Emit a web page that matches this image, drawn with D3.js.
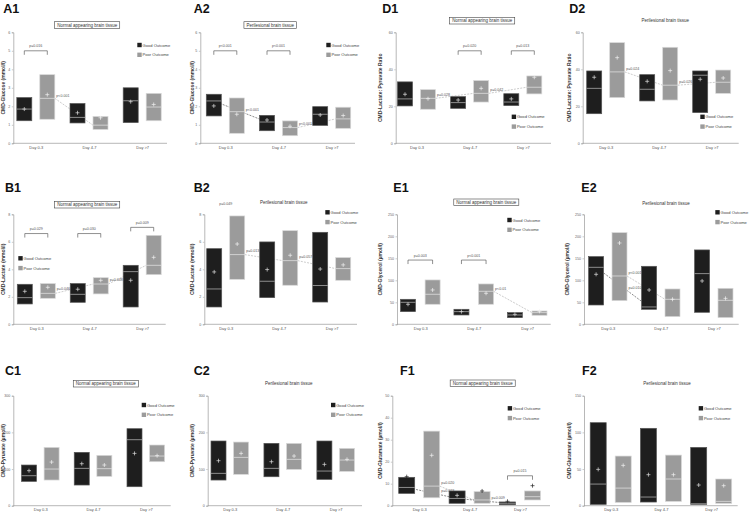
<!DOCTYPE html>
<html><head><meta charset="utf-8">
<script src="https://cdn.jsdelivr.net/npm/d3@7"></script>
<style>body{margin:0;background:#fff} svg{display:block} text{font-family:Arial,"Liberation Sans",sans-serif}</style>
</head><body><svg id="c" width="750" height="512"></svg>
<script>
const days = ["Day 0-3","Day 4-7","Day >7"];
const outcomes = ["Good Outcome","Poor Outcome"];
const normalTitle = "Normal appearing brain tissue";
const periTitle = "Perilesional brain tissue";
// tick labels
const glucoseTicks = [0,1,2,3,4,5,6];
const lprTicks = [0,20,40,60];
const lactateTicks = [0,2,4,6,8];
const glycerolTicks = [0,50,100,150,200,250];
const pyruvateTicks = [0,100,200,300];
const glutamate1Ticks = [0,10,20,30,40,50];
const glutamate2Ticks = [0,50,100,150];
// boxes: [low, high, median, mean] for each day
const A1_good = [[1.22,2.47,1.85,1.85],[1.1,2.15,1.4,1.65],[1.12,3.0,2.3,2.25]];
const A1_poor = [[1.3,3.71,2.43,2.63],[0.75,1.45,0.98,1.38],[1.22,2.7,1.96,2.1]];
const A2_good = [[1.48,2.65,2.29,2.02],[0.68,1.51,1.15,1.26],[0.97,1.98,1.57,1.53]];
const A2_poor = [[0.54,2.45,1.71,1.57],[0.41,1.21,0.85,0.92],[0.81,1.95,1.32,1.5]];
const D1_good = [[20.2,33.2,24,26.5],[18.9,25.2,22,23.4],[20.4,26.8,22.3,24]];
const D1_poor = [[18.4,29,24.3,24.1],[22.3,33.9,27,29.7],[26.7,36.4,30.3,35.7]];
const D2_good = [[16,39.1,29.7,35.7],[22.9,37.1,29.2,33.5],[16.6,39.1,36.8,34.6]];
const D2_poor = [[24.7,54.4,38.6,46.3],[23.4,51.9,31.4,39.3],[27,39.6,33,35.3]];
const B1_good = [[1.48,2.91,1.94,2.4],[1.6,2.96,2.18,2.55],[1.26,4.29,3.83,3.2]];
const B1_poor = [[1.89,2.96,2.25,2.69],[2.21,3.39,2.93,3.2],[3.61,6.47,4.29,4.87]];
const B2_good = [[1.26,5.5,2.57,3.81],[1.94,5.99,3.13,3.98],[1.62,6.69,2.82,4.02]];
const B2_poor = [[3.27,7.88,5.07,5.84],[2.84,6.81,4.63,5.02],[3.2,4.85,4.05,4.32]];
const E1_good = [[28.8,56.8,50,45.5],[21.2,34.1,28.8,28.8],[15.2,26.5,21.2,22.7]];
const E1_poor = [[45.5,100.8,68.2,78],[45.5,91.7,75,70.5],[20.5,30.3,26.5,29.5]];
const E2_good = [[43.9,153.8,129.5,113.6],[34.1,131.8,39.4,78],[27.3,169,115.2,98.5]];
const E2_poor = [[53.8,208.3,109.8,184.8],[17.4,80.3,56.8,56.8],[15.2,81.8,54.5,59]];
const C1_good = [[66.4,110.9,81.8,95.5],[56.4,145.5,101.8,114.5],[51.8,210,180,142.7]];
const C1_poor = [[70,159,100,119],[80,137.3,101,111],[120,165.5,135.5,136.4]];
const C2_good = [[70,176.4,88.2,122.7],[79,170,101.8,120],[71.8,176.4,94.5,112.7]];
const C2_poor = [[85.5,173.6,131.8,142.7],[99,170,126.4,135.5],[93.6,156.4,124.5,126.4]];
const F1_good = [[5.6,12.9,8.3,13.2],[1.1,6.7,3.3,4.7],[0.45,1.7,1.1,2.0]];
const F1_poor = [[3.6,33.9,8.9,22.9],[1.1,6.4,2.6,6.7],[2.6,6.7,4.1,9.1]];
const F2_good = [[1.8,113.2,29.5,49.5],[5,105.5,11.8,42.3],[1.8,79.5,2.7,28.2]];
const F2_poor = [[4.5,67.7,24,55],[5.9,69,36.4,42.3],[3.2,36.4,5.9,27.3]];
// significance brackets: [day index, level, label, draw bracket]
const A1_br = [[0,5.0,"p=0.016",1]];
const A2_br = [[0,5.0,"p<0.001",1],[1,5.0,"p<0.001",1]];
const D1_br = [[1,50,"p=0.020",1],[2,50,"p=0.013",1]];
const B1_br = [[0,6.6,"p=0.029",1],[1,6.6,"p=0.030",1],[2,7.05,"p=0.009",1]];
const B2_br = [[0,8.45,"p=0.049",0]];
const E1_br = [[0,146,"p=0.003",1],[1,146,"p<0.001",1]];
const F1_br = [[2,13.6,"p=0.015",1]];
// median connectors: [series, from day, to day, label]
const A1_conn = [["poor",0,1,"p<0.001"]];
const A2_conn = [["good",0,1,"p<0.001"],["poor",1,2,"p<0.001"]];
const D1_conn = [["poor",0,1,"p=0.028"],["poor",1,2,"p=0.042"]];
const D2_conn = [["poor",0,1,"p=0.024"],["poor",1,2,"p=0.026"]];
const B1_conn = [["poor",0,1,"p=0.046"],["poor",1,2,"p=0.048"]];
const B2_conn = [["poor",0,1,"p=0.013"],["poor",1,2,"p=0.057"]];
const E1_conn = [["poor",1,2,"p<0.01"]];
const E2_conn = [["poor",0,1,"p<0.001"],["good",0,1,"p=0.010"]];
const F1_conn = [["good",0,1,"p=0.023"],["poor",0,1,"p=0.020"],["good",1,2,"p=0.009"]];

const panels = [
 {key:"A1",good:A1_good,poor:A1_poor,ticks:glucoseTicks,ylabel:"CMD-Glucose  (mmol/l)",title:normalTitle,boxed:true,conn:A1_conn,br:A1_br,
  L:{ax:13.3,xEnd:167,yTop:32.3,yBot:143.3,c0:35.8,c2:142.2,off:11.5,bw:15,ylx:3.5,lab:[3.3,13.3],tit:[87.2,25],leg:[137.3,45]}},
 {key:"A2",good:A2_good,poor:A2_poor,ticks:glucoseTicks,ylabel:"CMD-Glucose  (mmol/l)",title:periTitle,boxed:true,conn:A2_conn,br:A2_br,
  L:{ax:200.3,xEnd:355,yTop:32.3,yBot:143.3,c0:225.3,c2:331.7,off:11.5,bw:15,ylx:192,lab:[193.7,13.3],tit:[270.2,25],leg:[326.3,45]}},
 {key:"D1",good:D1_good,poor:D1_poor,ticks:lprTicks,ylabel:"CMD-Lactate: Pyruvate Ratio",title:normalTitle,boxed:true,conn:D1_conn,br:D1_br,
  L:{ax:395.7,xEnd:551,yTop:32.3,yBot:143.3,c0:416.5,c2:522.8,off:11.5,bw:15,ylx:380,lab:[382.3,13.3],tit:[482.2,20.7],leg:[511.7,116.8]}},
 {key:"D2",good:D2_good,poor:D2_poor,ticks:lprTicks,ylabel:"CMD-Lactate: Pyruvate Ratio",title:periTitle,boxed:false,conn:D2_conn,br:[],
  L:{ax:582.7,xEnd:738.7,yTop:32.3,yBot:143.3,c0:605.7,c2:711.7,off:11.5,bw:15,ylx:569.3,lab:[569.3,13.3],tit:[665.3,20.7],leg:[700.3,116.8]}},
 {key:"B1",good:B1_good,poor:B1_poor,ticks:lactateTicks,ylabel:"CMD-Lactate (mmol/l)",title:normalTitle,boxed:true,conn:B1_conn,br:B1_br,
  L:{ax:13.3,xEnd:165.7,yTop:214.3,yBot:324.3,c0:36.3,c2:142.2,off:11.5,bw:15,ylx:3,lab:[5,191.7],tit:[87.2,204.7],leg:[18.3,258.3]}},
 {key:"B2",good:B2_good,poor:B2_poor,ticks:lactateTicks,ylabel:"CMD-Lactate (mmol/l)",title:periTitle,boxed:false,conn:B2_conn,br:B2_br,
  L:{ax:204.3,xEnd:357,yTop:214.3,yBot:324.3,c0:225.7,c2:331.7,off:11.5,bw:15,ylx:192,lab:[193.7,191.7],tit:[283.7,202.3],leg:[325.3,212.3]}},
 {key:"E1",good:E1_good,poor:E1_poor,ticks:glycerolTicks,ylabel:"CMD-Glycerol  (µmol/l)",title:normalTitle,boxed:true,conn:E1_conn,br:E1_br,
  L:{ax:397,xEnd:550.7,yTop:214.3,yBot:324.3,c0:420.3,c2:527.2,off:12.3,bw:15,ylx:380,lab:[393.3,191.7],tit:[486.3,202.3],leg:[507.3,220]}},
 {key:"E2",good:E2_good,poor:E2_poor,ticks:glycerolTicks,ylabel:"CMD-Glycerol  (µmol/l)",title:periTitle,boxed:false,conn:E2_conn,br:[],
  L:{ax:584,xEnd:738.7,yTop:214.3,yBot:324.3,c0:607.8,c2:713.8,off:11.7,bw:15,ylx:567,lab:[581.3,191.7],tit:[666,203.3],leg:[715.3,212.3]}},
 {key:"C1",good:C1_good,poor:C1_poor,ticks:pyruvateTicks,ylabel:"CMD-Pyruvate (µmol/l)",title:normalTitle,boxed:true,conn:[],br:[],
  L:{ax:13.3,xEnd:170.7,yTop:395.7,yBot:505.7,c0:40.3,c2:145.8,off:11.3,bw:15,ylx:3,lab:[5,375],tit:[105.8,383.7],leg:[141.7,405]}},
 {key:"C2",good:C2_good,poor:C2_poor,ticks:pyruvateTicks,ylabel:"CMD-Pyruvate (µmol/l)",title:periTitle,boxed:false,conn:[],br:[],
  L:{ax:207.7,xEnd:362,yTop:395.7,yBot:505.7,c0:229.8,c2:335.7,off:11.3,bw:15,ylx:192,lab:[193.7,375],tit:[288.7,383.3],leg:[331,405]}},
 {key:"F1",good:F1_good,poor:F1_poor,ticks:glutamate1Ticks,ylabel:"CMD-Glutamate  (µmol/l)",title:normalTitle,boxed:true,conn:F1_conn,br:F1_br,
  L:{ax:392.3,xEnd:550,yTop:395.7,yBot:505.7,c0:419.2,c2:520,off:12.5,bw:16,ylx:380,lab:[400,375],tit:[482.7,383.3],leg:[507.7,408.3]}},
 {key:"F2",good:F2_good,poor:F2_poor,ticks:glutamate2Ticks,ylabel:"CMD-Glutamate  (µmol/l)",title:periTitle,boxed:false,conn:[],br:[],
  L:{ax:584,xEnd:737.7,yTop:395.7,yBot:505.7,c0:610.7,c2:711.2,off:12.5,bw:16,ylx:569.3,lab:[582,375],tit:[667,383.3],leg:[698.7,408.3]}}
];

const svg = d3.select("#c");
const GOOD = "#1e1e1e", POOR = "#9b9b9b";

panels.forEach(p => {
  const L = p.L;
  const g = svg.append("g");
  const tmax = p.ticks[p.ticks.length-1];
  const y = d3.scaleLinear().domain([0,tmax]).range([L.yBot,L.yTop]);
  const x = d3.scalePoint().domain(days).range([L.c0,L.c2]);
  const sx = d3.scalePoint().domain(outcomes).range([-L.off,L.off]);
  const series = {good:{vals:p.good,o:outcomes[0]}, poor:{vals:p.poor,o:outcomes[1]}};

  g.append("text").attr("x",L.lab[0]).attr("y",L.lab[1]).attr("font-size",12.5).attr("font-weight","bold").attr("fill","#111").text(p.key);

  const tt = g.append("text").attr("x",L.tit[0]).attr("y",L.tit[1]+1.6).attr("text-anchor","middle")
    .attr("font-size",4.5).attr("fill","#333").text(p.title);
  if (p.boxed) {
    const w = tt.node().getComputedTextLength();
    g.insert("rect","text").attr("x",L.tit[0]-w/2-2.5).attr("y",L.tit[1]-3.3).attr("width",w+5).attr("height",6.6)
      .attr("fill","#fff").attr("stroke","#444").attr("stroke-width",0.6);
  }

  const yAxis = d3.axisLeft(y).tickValues(p.ticks).tickFormat(d3.format("d")).tickSize(1.5).tickPadding(1.5);
  const ya = g.append("g").attr("transform",`translate(${L.ax},0)`).call(yAxis);
  ya.select(".domain").attr("stroke","#999").attr("stroke-width",0.7);
  ya.selectAll(".tick line").attr("stroke","#999").attr("stroke-width",0.5);
  ya.selectAll(".tick text").attr("font-size",3.6).attr("fill","#666").attr("font-family","Arial");

  const xAxis = d3.axisBottom(x).tickSize(0).tickPadding(2.8);
  const xa = g.append("g").attr("transform",`translate(0,${L.yBot})`).call(xAxis);
  xa.select(".domain").remove();
  xa.selectAll(".tick text").attr("font-size",4).attr("fill","#555").attr("font-family","Arial");
  g.append("line").attr("x1",L.ax).attr("x2",L.xEnd).attr("y1",L.yBot).attr("y2",L.yBot).attr("stroke","#999").attr("stroke-width",0.7);

  g.append("text").attr("transform",`translate(${L.ylx+1.7},${(L.yTop+L.yBot)/2}) rotate(-90)`)
    .attr("text-anchor","middle").attr("font-size",5).attr("font-weight","bold").attr("fill","#333").text(p.ylabel);

  p.conn.forEach(c => {
    const s = series[c[0]];
    const x1 = x(days[c[1]]) + sx(s.o) + (c[0]==="good" ? 0 : L.bw/2);
    const x2 = x(days[c[2]]) + sx(s.o) - (c[0]==="good" ? 0 : L.bw/2);
    const y1 = y(s.vals[c[1]][2]), y2 = y(s.vals[c[2]][2]);
    g.append("line").attr("x1",x1).attr("y1",y1).attr("x2",x2).attr("y2",y2)
      .attr("stroke", c[0]==="good" ? "#3a3a3a" : "#aaa").attr("stroke-width",0.6).attr("stroke-dasharray","2,1.2");
    const lx = x(days[c[1]]) + sx(outcomes[1]) + L.bw/2 + 1.5;
    const ly = y1 + (y2-y1)*(lx-x1)/(x2-x1) - 2.5;
    g.append("text").attr("x",lx).attr("y",ly).attr("font-size",3.6).attr("fill","#555").text(c[3]);
  });

  ["good","poor"].forEach(k => {
    const s = series[k];
    const col = k==="good" ? GOOD : POOR;
    s.vals.forEach((v,i) => {
      const cx = x(days[i]) + sx(s.o);
      g.append("rect").attr("x",cx-L.bw/2).attr("y",y(v[1])).attr("width",L.bw).attr("height",y(v[0])-y(v[1]))
        .attr("fill",col).attr("stroke",k==="good" ? "#555" : "#d8d8d8").attr("stroke-width",0.7);
      g.append("line").attr("x1",cx-L.bw/2).attr("x2",cx+L.bw/2).attr("y1",y(v[2])).attr("y2",y(v[2]))
        .attr("stroke",k==="good" ? "#bdbdbd" : "#e6e6e6").attr("stroke-width",0.7);
      const inside = v[3] <= v[1] && v[3] >= v[0];
      const mc = inside ? (k==="good" ? "#ddd" : "#f0f0f0") : "#222";
      const my = y(v[3]);
      g.append("path").attr("d",`M${cx-2},${my}H${cx+2}M${cx},${my-2}V${my+2}`).attr("stroke",mc).attr("stroke-width",0.7);
    });
  });

  p.br.forEach(b => {
    const xa1 = x(days[b[0]]) + sx(outcomes[0]);
    const xa2 = x(days[b[0]]) + sx(outcomes[1]);
    const by = y(b[1]);
    if (b[3]) {
      g.append("path").attr("d",`M${xa1},${by+4}V${by}H${xa2}V${by+4}`).attr("fill","none").attr("stroke","#444").attr("stroke-width",0.6);
    }
    g.append("text").attr("x",(xa1+xa2)/2).attr("y",by-3.5).attr("text-anchor","middle").attr("font-size",3.6).attr("fill","#555").text(b[2]);
  });

  outcomes.forEach((o,i) => {
    const ly = L.leg[1] + i*9.8;
    g.append("rect").attr("x",L.leg[0]).attr("y",ly-2.2).attr("width",4.4).attr("height",4.4)
      .attr("fill", i===0 ? GOOD : POOR);
    g.append("text").attr("x",L.leg[0]+5.2).attr("y",ly+1.5).attr("font-size",4.1).attr("fill","#444").text(o);
  });
});
</script></body></html>
